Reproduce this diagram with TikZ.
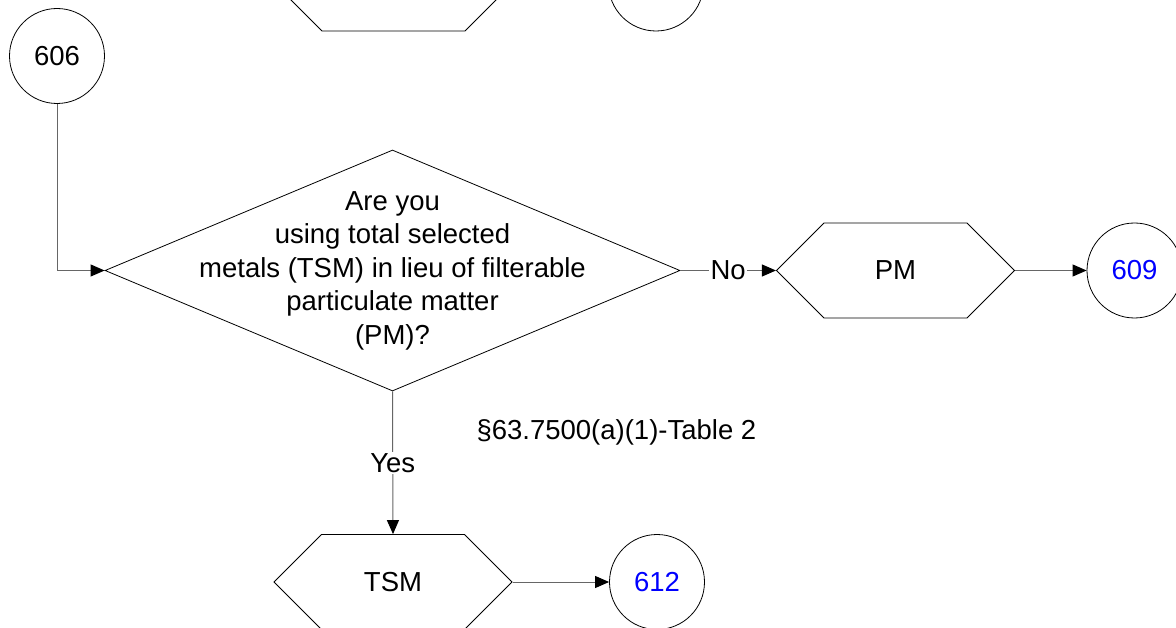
\documentclass[tikz,border=0pt]{standalone}
\usepackage{fontspec}
\setmainfont{Liberation Sans}
\usetikzlibrary{shapes.geometric,shapes.symbols,arrows.meta}
\begin{document}
\begin{tikzpicture}[x=1pt,y=-1pt,
  every node/.style={font=\fontsize{27.5}{33.5}\selectfont},
  hexa/.style={draw=black,line width=0.8pt,shape=signal,signal to=east and west,
    signal pointer angle=90,minimum width=238pt,minimum height=95pt,inner sep=0pt},
  conn/.style={draw=black!60,line width=1pt,-{Triangle[length=14pt,width=12pt,fill=black,color=black]}},
  ring/.style={draw=black,line width=0.8pt,circle,minimum size=95pt,inner sep=0pt},
  lbl/.style={fill=white,inner sep=1.5pt},
  dia/.style={draw=black,line width=0.8pt,diamond,minimum width=575pt,minimum height=241pt,inner sep=0pt}]
\clip (0,0) rectangle (1176,628);
\fill[white] (0,0) rectangle (1176,628);
% partial shapes at top
\node[hexa] (hx0) at (393.5,-16.5) {};
\node[ring] (c0) at (656,-16.5) {};
% main
\node[ring] (c606) at (57,56) {606};
\node[dia] (q) at (392.5,270.5) {};
\node[align=center] (qt) at (392.5,270.5) {Are you\\using total selected\\metals (TSM) in lieu of filterable\\particulate matter\\(PM)?};
\node[hexa] (pm) at (895.5,270.5) {PM};
\node[ring,text=blue] (c609) at (1134.5,270.5) {609};
\node[hexa] (tsm) at (393,582) {TSM};
\node[ring,text=blue] (c612) at (657,582) {612};
\node[anchor=west] (ref) at (473,432) {\S63.7500(a)(1)-Table 2};
% connectors
\draw[conn] (c606.south) |- (q.west);
\draw[conn] (q.east) -- node[lbl] (no) {No} (pm.west);
\draw[conn] (pm.east) -- (c609.west);
\draw[conn] (q.south) -- node[lbl] (yes) {Yes} (tsm.north);
\draw[conn] (tsm.east) -- (c612.west);
\end{tikzpicture}
\end{document}
